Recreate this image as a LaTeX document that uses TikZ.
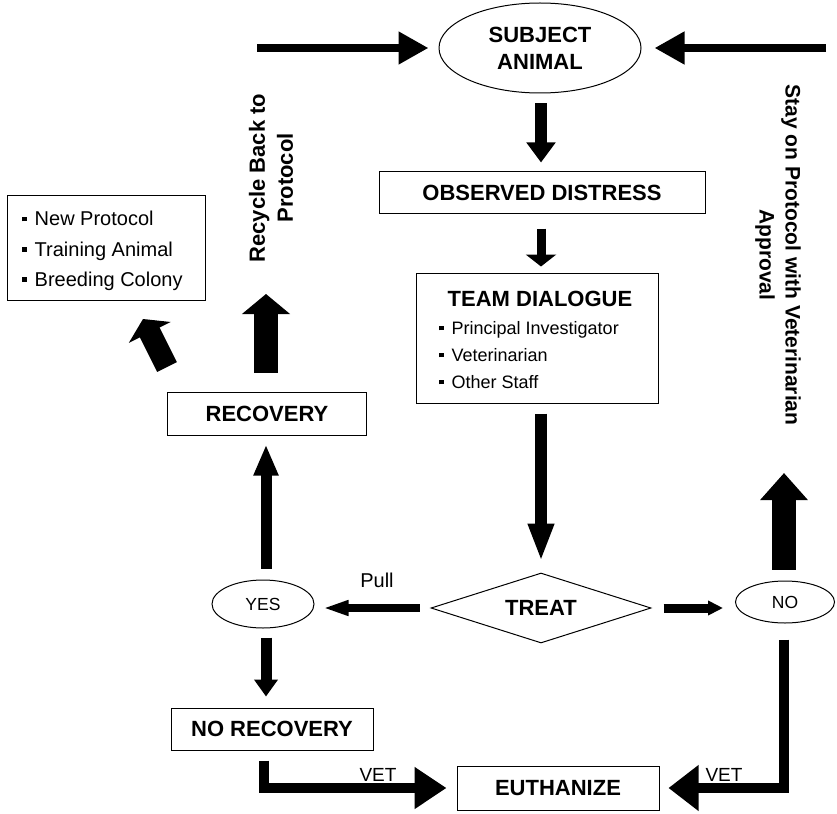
\documentclass[tikz,border=0pt]{standalone}
\usepackage{fontspec}
\setmainfont{Liberation Sans}
\usetikzlibrary{arrows.meta,shapes.geometric,calc}
\newcommand{\sqbul}[1]{\rule[#1]{4.5pt}{4.5pt}}
\begin{document}
\begin{tikzpicture}[x=1pt,y=-1pt,
  bf/.style={font=\fontsize{22}{26.7}\selectfont\bfseries},
  rbox/.style={draw,line width=1pt,rectangle,inner sep=0pt},
  ebox/.style={draw,line width=1pt,ellipse,inner sep=0pt},
  barrow/.style n args={3}{line width=#1pt,-{Triangle[width=#2pt,length=#3pt]}},
]
\useasboundingbox (0,0) rectangle (837,813);

% nodes
\node[ebox, bf, align=center, minimum width=202pt, minimum height=90pt] (subj) at (540,48) {SUBJECT\\ANIMAL};
\node[rbox, bf, minimum width=326pt, minimum height=41pt] (obs) at (542,192.5) {OBSERVED DISTRESS};
\node[rbox, minimum width=242pt, minimum height=130pt] (team) at (537,338) {};
\node[bf] (teamtitle) at (540,299) {TEAM DIALOGUE};
\node[anchor=west, inner sep=0pt, align=left, font=\fontsize{18}{27}\selectfont] (teamlist) at (439,355)
  {\sqbul{4pt}\hspace{8pt}Principal Investigator\\\sqbul{4pt}\hspace{8pt}Veterinarian\\\sqbul{4pt}\hspace{8pt}Other Staff};
\node[draw, line width=1pt, diamond, inner sep=0pt, shape aspect=3.14, minimum width=220pt, minimum height=70pt, bf] (treat) at (541,608) {TREAT};
\node[ebox, minimum width=102pt, minimum height=48pt, font=\fontsize{17.5}{20}\selectfont] (yes) at (263,604) {YES};
\node[ebox, minimum width=99pt, minimum height=42pt, font=\fontsize{17.5}{20}\selectfont] (no) at (785,602) {NO};
\node[rbox, bf, minimum width=199pt, minimum height=43pt] (recov) at (267,413.5) {RECOVERY};
\node[rbox, bf, minimum width=202pt, minimum height=42pt] (norec) at (272,729) {NO RECOVERY};
\node[rbox, bf, minimum width=202pt, minimum height=44pt] (euth) at (558,788) {EUTHANIZE};
\node[rbox, minimum width=198pt, minimum height=105pt] (lbox) at (106,247.5) {};
\node[anchor=west, inner sep=0pt, align=left, font=\fontsize{20}{30.3}\selectfont] (llist) at (22,251)
  {\sqbul{4.5pt}\hspace{8pt}New Protocol\\\sqbul{4.5pt}\hspace{8pt}Training Animal\\\sqbul{4.5pt}\hspace{8pt}Breeding Colony};
\node[font=\fontsize{22}{28}\selectfont\bfseries, align=center, rotate=90] (recyc) at (271,178) {Recycle Back to\\Protocol};
\node[font=\fontsize{21}{26}\selectfont\bfseries, align=center, rotate=-90] (stay) at (778,255) {Stay on Protocol with Veterinarian\\Approval};
\node[font=\fontsize{20}{24}\selectfont] (pull) at (377,580) {Pull};
\node[font=\fontsize{19}{22}\selectfont] (vetl) at (378,775) {VET};
\node[font=\fontsize{19}{22}\selectfont] (vetr) at (724,775) {VET};

% coordinates
\coordinate (cx) at (541,0);
\coordinate (lx) at (266,0);
\coordinate (blx) at (264,0);
\coordinate (rx) at (784,0);
\coordinate (tl) at (257,48);
\coordinate (tr) at (826,48);
\coordinate (rup) at (266,294);
\coordinate (d1) at (167,367);
\coordinate (d2) at (143,319);
\coordinate (nup) at (784,473);

% connectors
\draw[barrow={8}{31}{30}, shorten >=10pt] (tl) -- (tl -| subj.west);
\draw[barrow={8}{31}{30}, shorten >=13pt] (tr) -- (tr -| subj.east);
\draw[barrow={12}{28}{20}, shorten <=10pt, shorten >=9pt] (subj.south -| cx) -- (obs.north -| cx);
\draw[barrow={9}{30}{12}, shorten <=15pt, shorten >=6pt] (obs.south -| cx) -- (team.north -| cx);
\draw[barrow={12}{24}{38}, shorten <=10pt, shorten >=11pt] (team.south -| cx) -- (treat.north -| cx);
\draw[barrow={8}{14}{26}, shorten <=11pt, shorten >=8pt] (treat.west) -- (treat.west -| yes.east);
\draw[barrow={9}{14}{15}, shorten <=12pt, shorten >=12pt] (treat.east) -- (treat.east -| no.west);
\draw[barrow={11}{23}{31}, shorten <=11pt, shorten >=9pt] (yes.north -| lx) -- (recov.south -| lx);
\draw[barrow={24}{47}{20}, shorten <=19pt] (recov.north -| lx) -- (rup);
\draw[barrow={22}{46}{15}] (d1) -- (d2);
\draw[barrow={11}{23}{17}, shorten <=9pt, shorten >=11pt] (yes.south -| lx) -- (norec.north -| lx);
\draw[barrow={24}{46}{27}, shorten <=11pt] (no.north -| nup) -- (nup);
\draw[barrow={10}{40}{32}, shorten <=10pt, shorten >=10pt] (norec.south -| blx) |- (euth.west);
\draw[barrow={10}{44}{30}, shorten <=16pt, shorten >=9pt] (no.south -| rx) |- (euth.east);
\end{tikzpicture}
\end{document}
